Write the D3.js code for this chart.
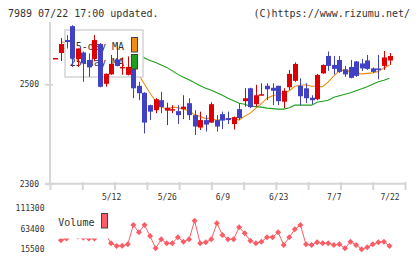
<!DOCTYPE html>
<html>
<head>
<meta charset="utf-8">
<script src="https://cdn.jsdelivr.net/npm/d3@7"></script>
<style>
  body { margin: 0; background: #fff; }
  svg { display: block; font-family: "DejaVu Sans Mono", monospace; }
  .axis path { display: none; }
  .axis line { stroke: #d6d6d6; stroke-width: 2; }
  .axis text { font-size: 8px; fill: #333; font-family: "DejaVu Sans Mono", monospace; }
</style>
</head>
<body>
<div id="chart"></div>
<script>
// trading days shown on the chart
const dates = [
  '4/23','4/24','4/25','4/28','4/30','5/1','5/2','5/7','5/8','5/9',
  '5/12','5/13','5/14','5/15','5/16','5/19','5/20','5/21','5/22','5/23',
  '5/26','5/27','5/28','5/29','5/30','6/2','6/3','6/4','6/5','6/6',
  '6/9','6/10','6/11','6/12','6/13','6/16','6/17','6/18','6/19','6/20',
  '6/23','6/24','6/25','6/26','6/27','6/30','7/1','7/2','7/3','7/4',
  '7/7','7/8','7/9','7/10','7/11','7/14','7/15','7/16','7/17','7/18',
  '7/22'
];

const opens = [
  2551,2563,2589,2617,2551,2564,2549,2551,2581,2501,
  2520,2550,2534,2519,2531,2497,2483,2458,2448,2468,
  2447,2448,2446,2450,2462,2438,2413,2428,2423,2428,
  2440,2432,2420,2450,2466,2492,2460,2478,2497,2493,
  2497,2465,2494,2507,2497,2492,2473,2470,2522,2557,
  2539,2549,2530,2535,2546,2542,2548,2532,2532,2537,
  2548
];
const highs = [
  2553,2593,2599,2619,2572,2566,2562,2599,2583,2522,
  2559,2583,2554,2556,2531,2505,2484,2459,2472,2485,
  2463,2458,2458,2478,2472,2448,2445,2438,2464,2438,
  2445,2445,2435,2462,2492,2493,2499,2502,2502,2502,
  2497,2492,2529,2544,2512,2502,2478,2521,2540,2566,
  2557,2557,2537,2549,2547,2551,2559,2534,2559,2567,
  2563
];
const lows = [
  2551,2547,2572,2535,2535,2505,2515,2546,2494,2495,
  2519,2536,2519,2518,2472,2468,2401,2428,2442,2442,
  2418,2442,2420,2430,2428,2398,2408,2405,2422,2405,
  2410,2420,2409,2428,2455,2452,2455,2478,2468,2458,
  2458,2452,2489,2505,2458,2462,2460,2468,2521,2527,
  2520,2523,2515,2512,2515,2527,2529,2523,2510,2529,
  2539
];
const closes = [
  2553,2581,2585,2552,2572,2542,2534,2589,2495,2521,
  2541,2537,2535,2535,2492,2482,2423,2445,2470,2454,
  2453,2450,2438,2455,2438,2415,2428,2419,2460,2415,
  2427,2428,2434,2432,2472,2454,2478,2480,2490,2487,
  2466,2487,2521,2541,2476,2472,2468,2519,2539,2537,
  2531,2525,2520,2513,2517,2532,2531,2525,2529,2554,
  2557
];

// moving averages as drawn on the chart
const ma5 = [
  null,2585,2584,2578,2568,2566,2557,2558,2546,2536,
  2536,2537,2526,2534,2528,2519,2500,2482,2466,2455,
  2449,2454,2453,2450,2447,2439,2435,2431,2432,2427,
  2430,2430,2432,2428,2436,2442,2452,2461,2472,2477,
  2480,2482,2487,2496,2498,2499,2496,2496,2495,2505,
  2517,2527,2529,2525,2522,2521,2522,2523,2526,2533,
  2539
];
const ma25 = [
  null,2572,2572,2571,2571,2570,2570,2570,2569,2568,
  2567,2567,2566,2565,2564,2563,2553,2548,2544,2539,
  2534,2527,2520,2514,2509,2503,2497,2492,2488,2483,
  2478,2472,2467,2462,2460,2456,2455,2454,2452,2451,
  2450,2450,2453,2458,2458,2458,2458,2464,2466,2468,
  2474,2477,2480,2483,2487,2491,2495,2500,2505,2508,
  2512
];

const volumes = [
  null,36000,40200,50000,45000,42000,40000,40000,60000,50000,
  28900,22600,23300,26600,72000,54800,72000,46100,17100,38300,
  28900,28900,43000,32700,38300,82100,28900,31300,38300,76000,
  48500,38300,38300,66600,52500,35000,28900,32700,43000,43000,
  54800,24900,43000,61900,72000,26600,24900,31300,28900,28900,
  24900,26600,17100,32700,24900,14800,19500,26600,31300,32700,
  22600
];

const dateLabels = ['5/12', '5/26', '6/9', '6/23', '7/7', '7/22'];
const priceTicks = [2300, 2500];
const volumeTicks = [15500, 63400, 111300];

class CandleChart {

  constructor(_config, _data) {
    this.config = {
      parentElement: _config.parentElement,
      containerWidth: _config.containerWidth || 420,
      containerHeight: _config.containerHeight || 259
    };
    this.data = _data;
    this.initVis();
  }

  initVis() {
    let vis = this;

    vis.svg = d3.select(vis.config.parentElement)
      .append('svg')
      .attr('width', vis.config.containerWidth)
      .attr('height', vis.config.containerHeight);

    // candles sit on a point scale, the frame ticks are evenly spaced
    vis.xScale = d3.scalePoint().domain(dates).range([55.4, 389.5]);
    vis.frameScale = d3.scaleLinear().domain([0, 11]).range([50, 405]);
    vis.yScale = d3.scaleLinear().domain([2300, 2500]).range([183.7, 84.3]);
    vis.vScale = d3.scaleLinear().domain([15500, 111300]).range([249, 208.3]);

    // header
    vis.svg.append('text')
      .attr('x', 8).attr('y', 16.5)
      .attr('font-size', 10).attr('fill', '#333')
      .text('7989 07/22 17:00 updated.');
    vis.svg.append('text')
      .attr('x', 410).attr('y', 16.5)
      .attr('font-size', 10).attr('fill', '#333')
      .attr('text-anchor', 'end')
      .text('(C)https://www.rizumu.net/');

    // frame lines
    vis.svg.append('line')
      .attr('x1', 50).attr('x2', 50).attr('y1', 22).attr('y2', 184)
      .attr('stroke', '#d6d6d6').attr('stroke-width', 2);
    vis.svg.append('line')
      .attr('x1', 45).attr('x2', 405).attr('y1', 183.7).attr('y2', 183.7)
      .attr('stroke', '#d6d6d6').attr('stroke-width', 2);

    vis.yAxisG = vis.svg.append('g')
      .attr('class', 'axis y-axis')
      .attr('transform', 'translate(53,0)');
    vis.frameAxisG = vis.svg.append('g')
      .attr('class', 'axis frame-axis')
      .attr('transform', 'translate(0,182)');
    vis.xAxisG = vis.svg.append('g')
      .attr('class', 'axis x-axis')
      .attr('transform', 'translate(0,191)');
    vis.vAxisG = vis.svg.append('g')
      .attr('class', 'axis v-axis')
      .attr('transform', 'translate(44.5,0)');

    vis.lineG = vis.svg.append('g');
    vis.volG = vis.svg.append('g');
    vis.legendG = vis.svg.append('g');
    vis.candleG = vis.svg.append('g');
    vis.swatchG = vis.svg.append('g');
  }

  updateVis() {
    let vis = this;
    vis.upColor = '#dc0000';
    vis.downColor = '#4141c3';
    vis.renderVis();
  }

  renderVis() {
    let vis = this;

    vis.yAxisG.call(d3.axisLeft(vis.yScale).tickValues(priceTicks)
      .tickFormat(d3.format('d')).tickSize(8).tickPadding(6));
    vis.frameAxisG.call(d3.axisBottom(vis.frameScale).tickValues(d3.range(12)).tickSize(8).tickFormat(''));
    vis.xAxisG.call(d3.axisBottom(vis.xScale).tickValues(dateLabels).tickSize(0).tickPadding(3));
    vis.vAxisG.call(d3.axisLeft(vis.vScale).tickValues(volumeTicks)
      .tickFormat(d3.format('d')).tickSize(0).tickPadding(0));
    vis.svg.selectAll('.axis text').attr('font-size', 8);

    // moving average lines
    const maLine = key => d3.line()
      .defined(d => d[key] != null)
      .x(d => vis.xScale(d.date))
      .y(d => vis.yScale(d[key]));

    vis.lineG.append('path')
      .datum(vis.data)
      .attr('fill', 'none').attr('stroke', '#f08c10').attr('stroke-width', 1.1)
      .attr('d', maLine('ma5'));
    vis.lineG.append('path')
      .datum(vis.data)
      .attr('fill', 'none').attr('stroke', '#1ea01e').attr('stroke-width', 1.1)
      .attr('d', maLine('ma25'));

    // volume
    const volColor = '#fb5d66';
    const volData = vis.data.filter(d => d.volume != null);
    vis.volG.append('path')
      .datum(volData)
      .attr('fill', 'none').attr('stroke', volColor).attr('stroke-width', 1)
      .attr('d', d3.line().x(d => vis.xScale(d.date)).y(d => vis.vScale(d.volume)));
    vis.volG.selectAll('.vpt')
      .data(volData)
      .join('path')
      .attr('class', 'vpt')
      .attr('fill', volColor)
      .attr('d', d3.symbol(d3.symbolSquare, 18))
      .attr('transform', d => `translate(${vis.xScale(d.date)},${vis.vScale(d.volume)}) rotate(45)`);

    // legend boxes cover the lines
    vis.legendG.append('rect')
      .attr('x', 65).attr('y', 30).attr('width', 78).attr('height', 47)
      .attr('fill', '#fff').attr('stroke', '#d4d4d4').attr('stroke-width', 1.5);
    vis.legendG.append('rect')
      .attr('x', 52).attr('y', 204).attr('width', 56).attr('height', 34.5)
      .attr('fill', '#fff');

    vis.legendG.selectAll('.leg')
      .data(['5-day MA', '25-day MA'])
      .join('text')
      .attr('class', 'leg')
      .attr('x', 124)
      .attr('y', (d, i) => 49.5 + i * 16.8)
      .attr('text-anchor', 'end')
      .attr('font-size', 10).attr('fill', '#333')
      .text(d => d);

    vis.legendG.append('text')
      .attr('x', 58.3).attr('y', 225.8)
      .attr('font-size', 10).attr('fill', '#333')
      .text('Volume');

    // candles
    const candles = vis.candleG.selectAll('.candle')
      .data(vis.data)
      .join('g')
      .attr('class', 'candle')
      .attr('fill', d => d.close >= d.open ? vis.upColor : vis.downColor)
      .attr('stroke', d => d.close >= d.open ? vis.upColor : vis.downColor);

    candles.append('line')
      .attr('x1', d => Math.round(vis.xScale(d.date)) + 0.5)
      .attr('x2', d => Math.round(vis.xScale(d.date)) + 0.5)
      .attr('y1', d => vis.yScale(d.high))
      .attr('y2', d => vis.yScale(d.low))
      .attr('stroke-width', 1);

    candles.append('rect')
      .attr('stroke', 'none')
      .attr('x', d => Math.round(vis.xScale(d.date)) - 2)
      .attr('width', 5)
      .attr('y', d => vis.yScale(Math.max(d.open, d.close)))
      .attr('height', d => Math.max(1.5, vis.yScale(Math.min(d.open, d.close)) - vis.yScale(Math.max(d.open, d.close))));

    // legend swatches
    vis.swatchG.selectAll('.sw')
      .data([
        { x: 131.5, y: 37.5, c: '#f08c10' },
        { x: 131.5, y: 54.5, c: '#1ea01e' },
        { x: 101.5, y: 213.5, c: '#fb5d66' }
      ])
      .join('rect')
      .attr('class', 'sw')
      .attr('x', d => d.x).attr('y', d => d.y)
      .attr('width', 6).attr('height', 14.5)
      .attr('fill', d => d.c)
      .attr('stroke', '#444').attr('stroke-width', 1);
  }
}

const table = dates.map((d, i) => ({
  date: d,
  open: opens[i],
  high: highs[i],
  low: lows[i],
  close: closes[i],
  ma5: ma5[i],
  ma25: ma25[i],
  volume: volumes[i]
}));

const chart = new CandleChart({ parentElement: '#chart' }, table);
chart.updateVis();
</script>
</body>
</html>
